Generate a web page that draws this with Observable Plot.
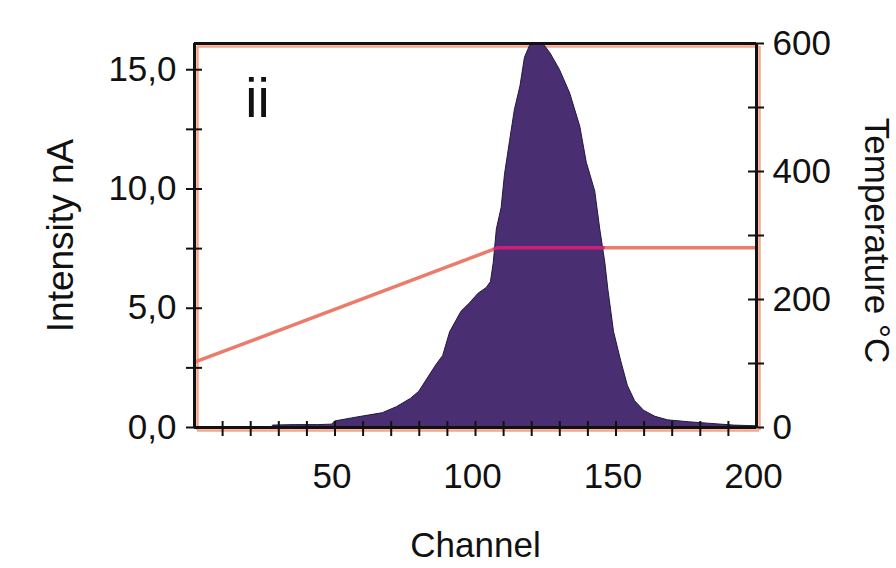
<!DOCTYPE html>
<html><head><meta charset="utf-8">
<script src="https://cdn.jsdelivr.net/npm/d3@7"></script>
<script src="https://cdn.jsdelivr.net/npm/@observablehq/plot@0.6"></script>
<style>body{margin:0;background:#fff} #chart svg{display:block}</style>
</head><body><div id="chart"></div>
<script>
// Histogram (Channel vs Intensity nA)
const histChannel = [28, 36, 44, 49, 50, 56, 62, 67, 72, 77, 80, 83, 86, 88.5, 91, 95, 98, 101, 104, 105.5, 106.5, 107.6, 109.3, 110.5, 112.3, 114, 116, 117.6, 119.4, 121, 124, 126.6, 130, 133.7, 137.3, 139.6, 142.6, 144.4, 146.2, 147.3, 149.3, 151.8, 154.2, 156.8, 160, 164, 168.5, 176, 184, 192, 200];
const histIntensity = [0.08, 0.1, 0.1, 0.12, 0.25, 0.38, 0.5, 0.6, 0.85, 1.2, 1.5, 2.05, 2.6, 3.0, 4.0, 4.85, 5.2, 5.6, 5.85, 6.1, 6.9, 8.3, 9.2, 10.6, 12.0, 13.3, 14.3, 15.5, 16.0, 16.1, 16.1, 15.7, 15.0, 14.0, 12.6, 11.1, 9.9, 8.3, 6.9, 5.75, 4.0, 2.8, 1.75, 1.1, 0.7, 0.45, 0.3, 0.22, 0.15, 0.08, 0.05];
// Temperature profile (Channel vs °C)
const tempChannel = [0, 108, 200];
const tempCelsius = [102, 281, 281];
// Axes
const xTicks = [50, 100, 150, 200];
const xMinorTicks = [10, 20, 30, 40, 50, 60, 70, 80, 90, 100, 110, 120, 130, 140, 150, 160, 170, 180, 190];
const yTicks = [0, 5, 10, 15];
const yMinorTicks = [0, 2.5, 5, 7.5, 10, 12.5, 15];
const tempTicks = [0, 200, 400, 600];
const tempMinorTicks = [0, 100, 200, 300, 400, 500, 600];
const xDomain = [0, 200];
const yMax = 16.1;
const tempMax = 600;
const k = yMax / tempMax;

const hist = histChannel.map((c, i) => ({channel: c, intensity: histIntensity[i]}));
const temp = tempChannel.map((c, i) => ({channel: c, value: tempCelsius[i] * k}));
const tempAt = d3.scaleLinear().domain(tempChannel).range(tempCelsius).clamp(true);

// overlap of temperature line with histogram area
const cross = [];
for (let i = 1; i < hist.length; i++) {
  const a = hist[i - 1], b = hist[i];
  const fa = a.intensity - tempAt(a.channel) * k, fb = b.intensity - tempAt(b.channel) * k;
  if ((fa < 0 && fb >= 0) || (fa >= 0 && fb < 0)) {
    const t = fa / (fa - fb);
    cross.push(a.channel + t * (b.channel - a.channel));
  }
}
const overlap = [];
if (cross.length >= 2) {
  const c1 = cross[0], c2 = cross[cross.length - 1];
  const cs = [c1, ...tempChannel.filter(c => c > c1 && c < c2), c2];
  cs.forEach(c => overlap.push({channel: c, value: tempAt(c) * k}));
}

const black = "#111";
const salmon = "#f5a68c";

const chart = Plot.plot({
  width: 896,
  height: 568,
  marginLeft: 194,
  marginRight: 140,
  marginTop: 43,
  marginBottom: 141,
  style: {fontFamily: "'Liberation Sans', Arial, sans-serif", fontSize: "35px", color: black, background: "#fff"},
  x: {domain: xDomain},
  y: {domain: [0, yMax]},
  marks: [
    // salmon shadow of the frame
    Plot.ruleX(xDomain, {stroke: salmon, strokeWidth: 2.5, dx: 3, dy: 3}),
    Plot.ruleY([0, yMax], {stroke: salmon, strokeWidth: 2.5, dx: 3, dy: 3}),
    Plot.line(temp, {x: "channel", y: "value", stroke: "#ec7c6a", strokeWidth: 3.5}),
    Plot.areaY(hist, {x: "channel", y: "intensity", fill: "#4a2e72", stroke: "#1f1a3c", strokeWidth: 1}),
    Plot.line(overlap, {x: "channel", y: "value", stroke: "#cc1f78", strokeWidth: 3.5}),
    // black frame
    Plot.ruleX(xDomain, {stroke: black, strokeWidth: 3}),
    Plot.ruleY([0, yMax], {stroke: black, strokeWidth: 3}),
    // crossing tick marks
    Plot.ruleY(yMinorTicks, {x1: 0, x2: 0, insetLeft: -8, insetRight: -8, stroke: black, strokeWidth: 2}),
    Plot.ruleY(tempMinorTicks.map(t => t * k), {x1: 200, x2: 200, insetLeft: -8, insetRight: -8, stroke: black, strokeWidth: 2}),
    Plot.ruleX(xMinorTicks, {y1: 0, y2: 0, insetTop: -6, insetBottom: -9, stroke: black, strokeWidth: 2}),
    // tick labels
    Plot.axisY(yTicks, {anchor: "left", tickSize: 0, tickPadding: 18, label: null, tickFormat: d => d.toFixed(1).replace(".", ","), fill: black}),
    Plot.axisY(tempTicks.map(t => t * k), {anchor: "right", tickSize: 0, tickPadding: 16, label: null, tickFormat: d => String(Math.round(d / k)), fill: black}),
    Plot.axisX(xTicks, {anchor: "bottom", tickSize: 0, tickPadding: 36, dx: -3, label: null, fill: black}),
    // titles
    Plot.text(["Channel"], {frameAnchor: "bottom", dy: 118, textAnchor: "middle", lineAnchor: "middle", fontSize: 35, fill: black}),
    Plot.text(["Intensity nA"], {frameAnchor: "left", dx: -133, rotate: -90, textAnchor: "middle", lineAnchor: "middle", fontSize: 37, fill: black}),
    Plot.text(["Temperature °C"], {frameAnchor: "right", dx: 120, dy: 5, rotate: 90, textAnchor: "middle", lineAnchor: "middle", fontSize: 35, fill: black}),
    Plot.text(["ii"], {frameAnchor: "top-left", dx: 63, dy: 34, lineAnchor: "top", textAnchor: "middle", fontSize: 55, fill: black})
  ]
});
document.getElementById("chart").appendChild(chart);
</script>
</body></html>
